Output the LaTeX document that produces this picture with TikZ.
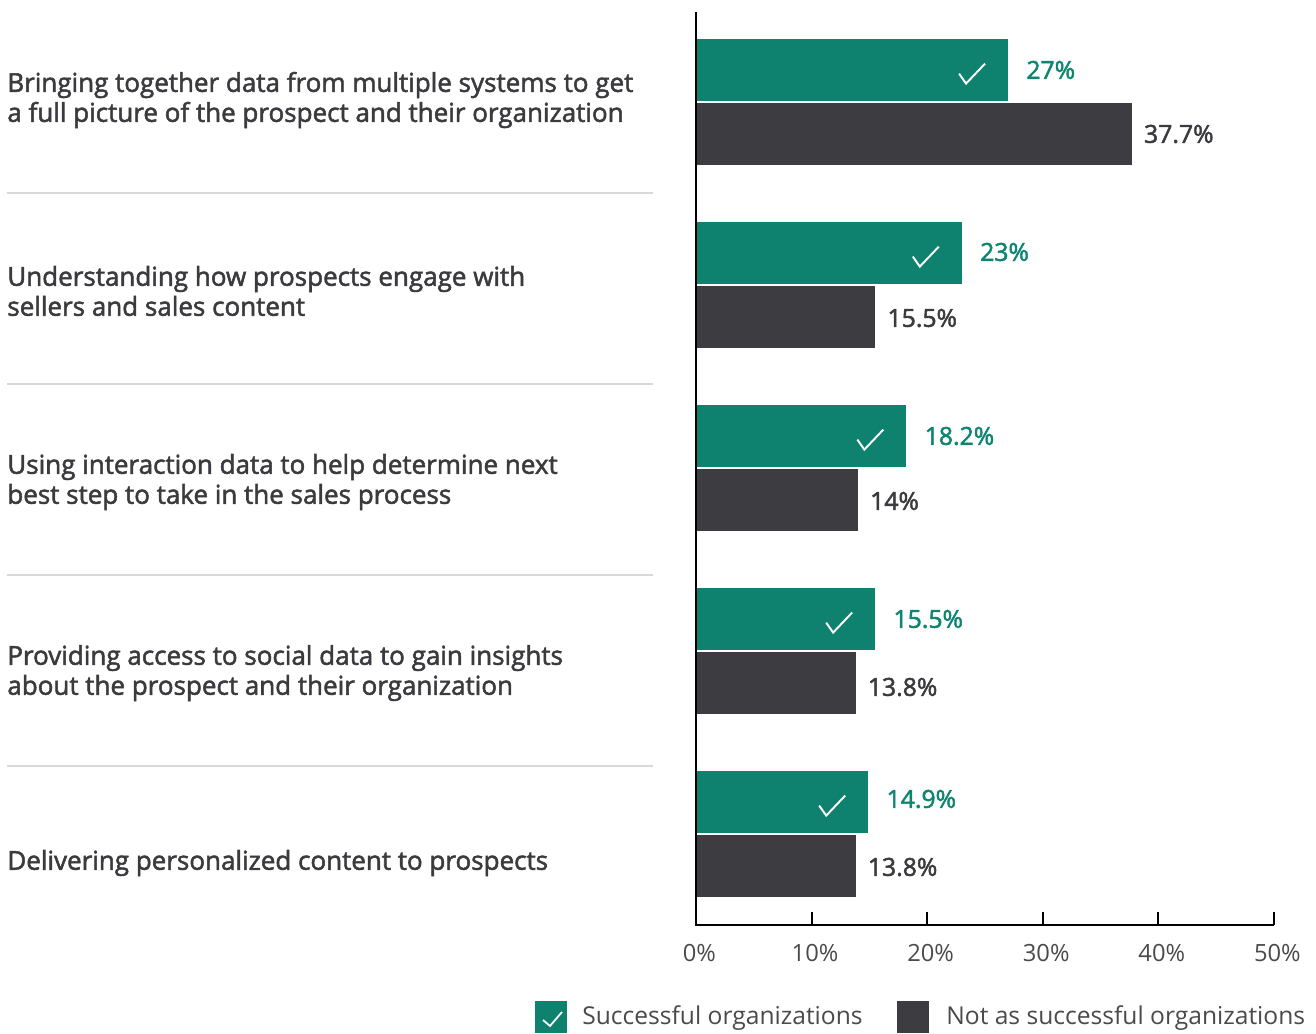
\documentclass[tikz,border=0pt]{standalone}
\usepackage{fontspec}
\setmainfont{Open Sans}
\newfontfamily\semifont{Open Sans}[FakeBold=2]
\definecolor{succgreen}{HTML}{0F826F}
\definecolor{valgreen}{HTML}{0E8570}
\definecolor{notdark}{HTML}{3D3C41}
\definecolor{labelgray}{HTML}{3B3A3F}
\definecolor{sepgray}{HTML}{D9D9D9}
\definecolor{tickgray}{HTML}{4A4A4A}

\begin{document}
\begin{tikzpicture}[x=0.02cm, y=-0.02cm,
        catlabel/.style={anchor=west, align=left, inner sep=0, text=labelgray,
                         font=\semifont\fontsize{14.8}{17.07}\selectfont},
        sep/.style={draw=sepgray, line width=0.6pt},
        okbar/.style={fill=succgreen},
        notbar/.style={fill=notdark},
        okval/.style={anchor=west, inner sep=0, xshift=0.36cm, text=valgreen,
                      font=\semifont\fontsize{14.1}{16}\selectfont},
        notval/.style={anchor=west, inner sep=0, xshift=0.24cm, text=labelgray,
                       font=\semifont\fontsize{14.1}{16}\selectfont},
        ticklabel/.style={inner sep=0, text=tickgray, font=\fontsize{13.5}{16}\selectfont},
        legtext/.style={anchor=west, inner sep=0, text=tickgray, font=\fontsize{14}{16}\selectfont},
        legbox/.style={minimum size=0.64cm, inner sep=0},
        checkmark/.pic={\draw[white, line width=1.1pt] (0,0) -- (0.14cm,-0.2cm) -- (0.52cm,0.2cm);}]
        \useasboundingbox (0,0) rectangle (1316,1034);

        % categories
        \node[catlabel] (c1) at (7,100) {Bringing together data from multiple systems to get\\a full picture of the prospect and their organization};
        \node[catlabel] (c2) at (7,291) {Understanding how prospects engage with\\sellers and sales content};
        \node[catlabel] (c3) at (7,482) {Using interaction data to help determine next\\best step to take in the sales process};
        \node[catlabel] (c4) at (7,673) {Providing access to social data to gain insights\\about the prospect and their organization};
        \node[catlabel] (c5) at (7,863) {Delivering personalized content to prospects};
        \draw[sep] (7,193) -- (653,193);
        \draw[sep] (7,384) -- (653,384);
        \draw[sep] (7,575) -- (653,575);
        \draw[sep] (7,766) -- (653,766);

        % bars, x in percent
        \begin{scope}[shift={(696,0)}, x=0.2312cm]
            \fill[okbar]  (0,39)  rectangle (27,101);
            \fill[notbar] (0,103) rectangle (37.7,165);
            \fill[okbar]  (0,222) rectangle (23,284);
            \fill[notbar] (0,286) rectangle (15.5,348);
            \fill[okbar]  (0,405) rectangle (18.2,467);
            \fill[notbar] (0,469) rectangle (14,531);
            \fill[okbar]  (0,588) rectangle (15.5,650);
            \fill[notbar] (0,652) rectangle (13.8,714);
            \fill[okbar]  (0,771) rectangle (14.9,833);
            \fill[notbar] (0,835) rectangle (13.8,897);

            \pic at (22.76,73.6)  {checkmark};
            \pic at (18.76,256.6) {checkmark};
            \pic at (13.96,439.6) {checkmark};
            \pic at (11.26,622.6) {checkmark};
            \pic at (10.66,805.6) {checkmark};

            \node[okval]  (v1a) at (27,70)    {27\%};
            \node[notval] (v1b) at (37.7,134) {37.7\%};
            \node[okval]  (v2a) at (23,252)   {23\%};
            \node[notval] (v2b) at (15.5,318) {15.5\%};
            \node[okval]  (v3a) at (18.2,436) {18.2\%};
            \node[notval] (v3b) at (14,501)   {14\%};
            \node[okval]  (v4a) at (15.5,619) {15.5\%};
            \node[notval] (v4b) at (13.8,687) {13.8\%};
            \node[okval]  (v5a) at (14.9,799) {14.9\%};
            \node[notval] (v5b) at (13.8,867) {13.8\%};

            % axes
            \draw[line width=1.4pt] (0,12) -- (0,925) -- (50,925);
            \foreach \t in {10,20,30,40,50}
                \draw[line width=1.2pt] (\t,925) -- (\t,912);
            \foreach \t in {0,10,...,50}
                \node[ticklabel] (t\t) at ({\t+0.3},953) {\t\%};
        \end{scope}

        % legend
        \node[legbox, fill=succgreen] (lg1) at (551,1017) {};
        \draw[white, line width=1pt] (543,1020) -- (550,1026) -- (562,1012);
        \node[legtext] (lt1) at (582,1018) {Successful organizations};
        \node[legbox, fill=notdark] (lg2) at (913,1017) {};
        \node[legtext] (lt2) at (946,1018) {Not as successful organizations};
\end{tikzpicture}
\end{document}
